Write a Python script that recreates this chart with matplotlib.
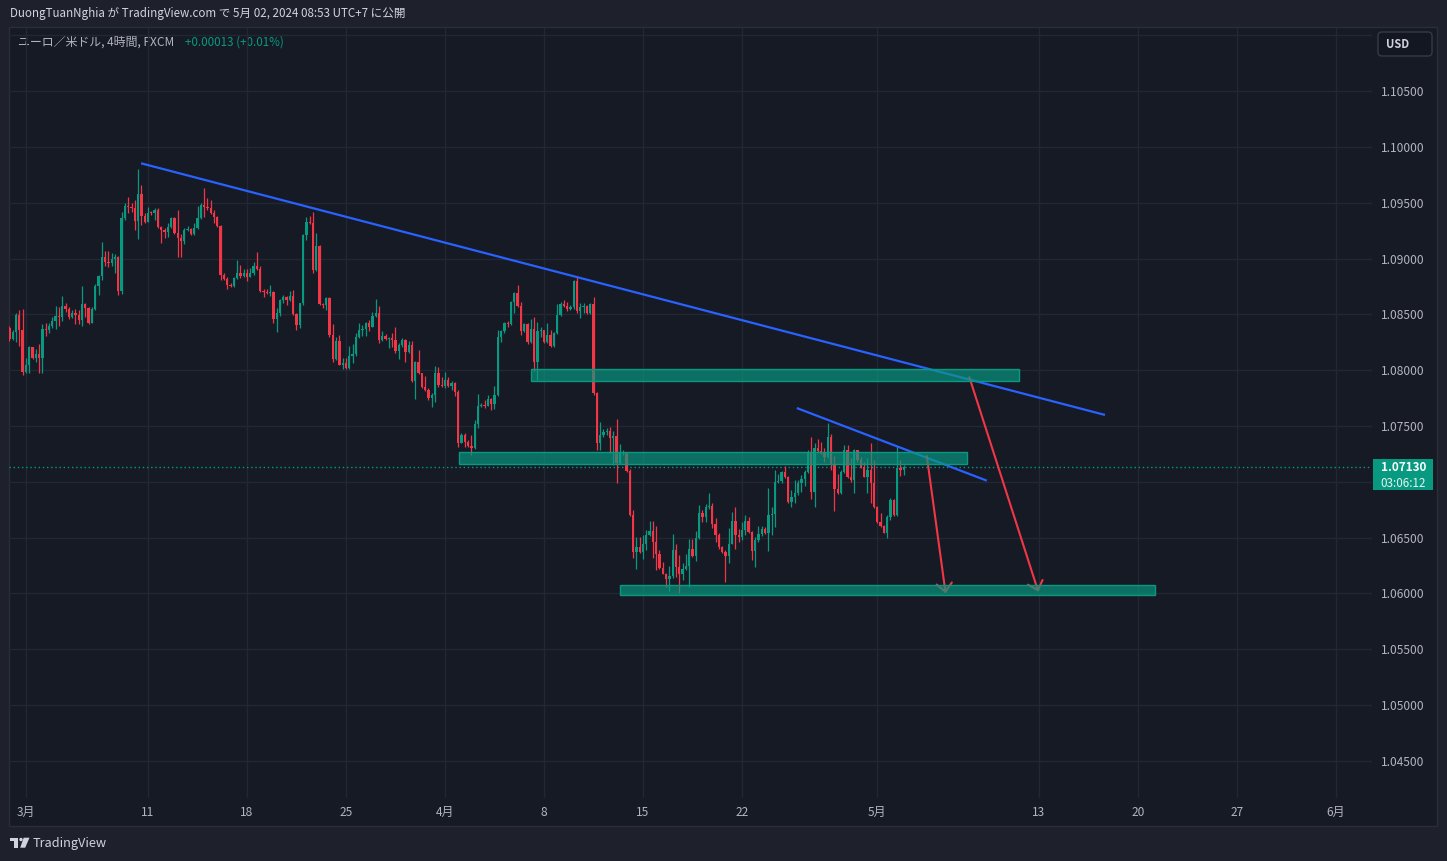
import numpy as np
import matplotlib
matplotlib.use("Agg")
import matplotlib.pyplot as plt
from matplotlib.patches import Rectangle, FancyBboxPatch, Polygon, Circle

plt.rcParams["font.family"] = ["Noto Sans CJK JP", "DejaVu Sans"]

# EUR/USD 4H bars, index 0 = first bar of Feb 29 (open of each bar = previous close)
first_open = 1.08374
closes = [
    1.08284, 1.08344, 1.08493, 1.08359, 1.07985, 1.08045, 1.08206, 1.08111, 1.08144, 1.08111,
    1.08368, 1.08359, 1.08398, 1.08440, 1.08488, 1.08478, 1.08574, 1.08544, 1.08478, 1.08517,
    1.08499, 1.08448, 1.08589, 1.08553, 1.08425, 1.08547, 1.08753, 1.08843, 1.09011, 1.08972,
    1.08963, 1.08999, 1.09017, 1.08712, 1.09360, 1.09471, 1.09462, 1.09456, 1.09337, 1.09579,
    1.09382, 1.09331, 1.09412, 1.09406, 1.09436, 1.09286, 1.09256, 1.09241, 1.09286, 1.09367,
    1.09232, 1.09187, 1.09157, 1.09256, 1.09265, 1.09220, 1.09271, 1.09367, 1.09480, 1.09462,
    1.09456, 1.09412, 1.09370, 1.09292, 1.08852, 1.08820, 1.08763, 1.08757, 1.08823, 1.08867,
    1.08847, 1.08874, 1.08838, 1.08868, 1.08933, 1.08906, 1.08712, 1.08703, 1.08688, 1.08703,
    1.08458, 1.08509, 1.08628, 1.08652, 1.08628, 1.08664, 1.08503, 1.08404, 1.08598, 1.09211,
    1.09331, 1.09322, 1.08897, 1.09113, 1.08592, 1.08583, 1.08643, 1.08314, 1.08099, 1.08261,
    1.08051, 1.08066, 1.08021, 1.08129, 1.08141, 1.08299, 1.08360, 1.08369, 1.08426, 1.08390,
    1.08486, 1.08516, 1.08271, 1.08306, 1.08280, 1.08291, 1.08271, 1.08172, 1.08226, 1.08271,
    1.08166, 1.08226, 1.07903, 1.08076, 1.07977, 1.07852, 1.07822, 1.07747, 1.07777, 1.07971,
    1.07867, 1.07858, 1.07912, 1.07861, 1.07888, 1.07807, 1.07350, 1.07418, 1.07359, 1.07323,
    1.07299, 1.07520, 1.07678, 1.07687, 1.07675, 1.07738, 1.07696, 1.07777, 1.08294, 1.08351,
    1.08426, 1.08414, 1.08614, 1.08695, 1.08575, 1.08351, 1.08414, 1.08255, 1.08366, 1.08076,
    1.08351, 1.08360, 1.08255, 1.08315, 1.08219, 1.08336, 1.08494, 1.08590, 1.08575, 1.08545,
    1.08563, 1.08799, 1.08533, 1.08569, 1.08575, 1.08509, 1.08593, 1.07792, 1.07349, 1.07419,
    1.07443, 1.07455, 1.07395, 1.07410, 1.07165, 1.07255, 1.07264, 1.07099, 1.06701, 1.06373,
    1.06417, 1.06373, 1.06447, 1.06522, 1.06558, 1.06462, 1.06349, 1.06229, 1.06178, 1.06133,
    1.06154, 1.06388, 1.06238, 1.06178, 1.06223, 1.06247, 1.06397, 1.06334, 1.06498, 1.06722,
    1.06686, 1.06770, 1.06782, 1.06621, 1.06522, 1.06417, 1.06373, 1.06337, 1.06447, 1.06651,
    1.06522, 1.06501, 1.06567, 1.06651, 1.06552, 1.06382, 1.06477, 1.06531, 1.06576, 1.06537,
    1.06701, 1.06710, 1.07000, 1.07006, 1.07090, 1.07039, 1.06821, 1.06866, 1.06902, 1.06985,
    1.07024, 1.07090, 1.07255, 1.06911, 1.07305, 1.07278, 1.07260, 1.07219, 1.07404, 1.07150,
    1.06932, 1.06902, 1.07090, 1.07285, 1.07039, 1.07015, 1.07285, 1.07195, 1.07135, 1.07045,
    1.07105, 1.06991, 1.06776, 1.06642, 1.06603, 1.06543, 1.06686, 1.06836, 1.06701, 1.07120,
    1.07105, 1.07130,
]
highs = [
    1.08395, 1.08359, 1.08514, 1.08538, 1.08547, 1.08105, 1.08215, 1.08212, 1.08188, 1.08239,
    1.08413, 1.08419, 1.08419, 1.08478, 1.08574, 1.08562, 1.08664, 1.08598, 1.08562, 1.08538,
    1.08544, 1.08538, 1.08753, 1.08598, 1.08568, 1.08568, 1.08771, 1.08852, 1.09148, 1.09067,
    1.09067, 1.09047, 1.09038, 1.09025, 1.09417, 1.09501, 1.09549, 1.09495, 1.09525, 1.09803,
    1.09660, 1.09406, 1.09465, 1.09430, 1.09450, 1.09450, 1.09292, 1.09271, 1.09322, 1.09376,
    1.09370, 1.09436, 1.09220, 1.09271, 1.09292, 1.09271, 1.09322, 1.09471, 1.09495, 1.09630,
    1.09540, 1.09525, 1.09436, 1.09382, 1.09301, 1.08867, 1.08837, 1.08778, 1.08832, 1.08987,
    1.08942, 1.08903, 1.08903, 1.08912, 1.08972, 1.09062, 1.08933, 1.08724, 1.08724, 1.08763,
    1.08709, 1.08554, 1.08634, 1.08673, 1.08664, 1.08712, 1.08718, 1.08515, 1.08604, 1.09220,
    1.09376, 1.09382, 1.09421, 1.09232, 1.09122, 1.08604, 1.08658, 1.08652, 1.08413, 1.08299,
    1.08314, 1.08105, 1.08105, 1.08216, 1.08234, 1.08329, 1.08426, 1.08405, 1.08435, 1.08450,
    1.08525, 1.08638, 1.08575, 1.08351, 1.08324, 1.08300, 1.08336, 1.08390, 1.08241, 1.08291,
    1.08276, 1.08265, 1.08265, 1.08085, 1.08181, 1.07948, 1.07948, 1.07837, 1.07792, 1.08037,
    1.08025, 1.07942, 1.07986, 1.07936, 1.07906, 1.07897, 1.07822, 1.07433, 1.07433, 1.07374,
    1.07418, 1.07553, 1.07786, 1.07708, 1.07732, 1.07777, 1.07747, 1.07857, 1.08360, 1.08360,
    1.08435, 1.08444, 1.08623, 1.08704, 1.08763, 1.08608, 1.08426, 1.08420, 1.08456, 1.08473,
    1.08429, 1.08384, 1.08345, 1.08420, 1.08360, 1.08345, 1.08590, 1.08614, 1.08629, 1.08614,
    1.08584, 1.08808, 1.08844, 1.08599, 1.08599, 1.08584, 1.08605, 1.08659, 1.07807, 1.07539,
    1.07470, 1.07479, 1.07488, 1.07458, 1.07563, 1.07338, 1.07285, 1.07261, 1.07111, 1.06746,
    1.06507, 1.06507, 1.06522, 1.06567, 1.06651, 1.06651, 1.06603, 1.06388, 1.06277, 1.06184,
    1.06244, 1.06531, 1.06441, 1.06343, 1.06268, 1.06352, 1.06483, 1.06483, 1.06558, 1.06791,
    1.06746, 1.06800, 1.06896, 1.06806, 1.06672, 1.06537, 1.06423, 1.06388, 1.06582, 1.06725,
    1.06770, 1.06573, 1.06642, 1.06701, 1.06686, 1.06561, 1.06507, 1.06603, 1.06603, 1.06597,
    1.06941, 1.06770, 1.07105, 1.07069, 1.07099, 1.07141, 1.07051, 1.06926, 1.07015, 1.07015,
    1.07060, 1.07105, 1.07285, 1.07404, 1.07350, 1.07380, 1.07359, 1.07299, 1.07530, 1.07428,
    1.07231, 1.07069, 1.07105, 1.07329, 1.07329, 1.07210, 1.07291, 1.07285, 1.07219, 1.07180,
    1.07210, 1.07344, 1.07195, 1.06782, 1.06716, 1.06612, 1.06701, 1.06851, 1.06842, 1.07320,
    1.07195, 1.07150,
]
lows = [
    1.08263, 1.08275, 1.08254, 1.08218, 1.07955, 1.07976, 1.07976, 1.08100, 1.08075, 1.07976,
    1.07976, 1.08308, 1.08329, 1.08374, 1.08368, 1.08398, 1.08443, 1.08523, 1.08463, 1.08472,
    1.08410, 1.08413, 1.08398, 1.08478, 1.08413, 1.08425, 1.08538, 1.08673, 1.08807, 1.08933,
    1.08927, 1.08936, 1.08873, 1.08673, 1.08682, 1.09346, 1.09406, 1.09421, 1.09256, 1.09175,
    1.09301, 1.09322, 1.09325, 1.09395, 1.09346, 1.09271, 1.09142, 1.09181, 1.09190, 1.09271,
    1.09217, 1.09017, 1.09017, 1.09128, 1.09250, 1.09211, 1.09211, 1.09265, 1.09352, 1.09376,
    1.09436, 1.09400, 1.09316, 1.09280, 1.08808, 1.08808, 1.08724, 1.08742, 1.08748, 1.08820,
    1.08830, 1.08832, 1.08802, 1.08832, 1.08853, 1.08897, 1.08703, 1.08658, 1.08682, 1.08664,
    1.08419, 1.08344, 1.08485, 1.08598, 1.08583, 1.08622, 1.08494, 1.08359, 1.08374, 1.08583,
    1.09167, 1.09310, 1.08867, 1.08891, 1.08583, 1.08554, 1.08539, 1.08299, 1.08075, 1.08090,
    1.08045, 1.08015, 1.08015, 1.08015, 1.08066, 1.08129, 1.08285, 1.08309, 1.08309, 1.08354,
    1.08384, 1.08474, 1.08241, 1.08265, 1.08271, 1.08202, 1.08211, 1.08151, 1.08100, 1.08211,
    1.08076, 1.08151, 1.07891, 1.07741, 1.07965, 1.07843, 1.07816, 1.07732, 1.07672, 1.07717,
    1.07852, 1.07846, 1.07837, 1.07852, 1.07822, 1.07768, 1.07308, 1.07344, 1.07308, 1.07314,
    1.07239, 1.07290, 1.07480, 1.07666, 1.07657, 1.07678, 1.07642, 1.07648, 1.07768, 1.08255,
    1.08336, 1.08384, 1.08405, 1.08509, 1.08569, 1.08315, 1.08345, 1.08234, 1.08246, 1.07995,
    1.07911, 1.08300, 1.08246, 1.08246, 1.08210, 1.08210, 1.08324, 1.08485, 1.08563, 1.08533,
    1.08539, 1.08545, 1.08515, 1.08470, 1.08509, 1.08503, 1.08503, 1.07777, 1.07283, 1.07284,
    1.07404, 1.07419, 1.07261, 1.07150, 1.06991, 1.07159, 1.07240, 1.07090, 1.06692, 1.06313,
    1.06223, 1.06364, 1.06304, 1.06388, 1.06513, 1.06313, 1.06208, 1.06223, 1.06172, 1.06059,
    1.06023, 1.06142, 1.06148, 1.06005, 1.06118, 1.06208, 1.06059, 1.06322, 1.06292, 1.06483,
    1.06642, 1.06642, 1.06752, 1.06582, 1.06462, 1.06402, 1.06364, 1.06103, 1.06268, 1.06441,
    1.06402, 1.06462, 1.06477, 1.06522, 1.06543, 1.06298, 1.06238, 1.06462, 1.06513, 1.06531,
    1.06382, 1.06522, 1.06597, 1.06985, 1.06991, 1.07030, 1.06806, 1.06776, 1.06806, 1.06881,
    1.06911, 1.06962, 1.07081, 1.06845, 1.06776, 1.07269, 1.07249, 1.07180, 1.07210, 1.07105,
    1.06740, 1.06890, 1.06890, 1.07075, 1.07030, 1.07000, 1.06902, 1.07180, 1.07120, 1.07039,
    1.06896, 1.06806, 1.06761, 1.06633, 1.06597, 1.06537, 1.06492, 1.06657, 1.06692, 1.06692,
    1.07051, 1.07060,
]

# time axis: bar index of each label
tick_pos = [5, 42, 72, 102, 132, 162, 192, 222, 263, 312, 342, 372, 402]
tick_labels = ["3月", "11", "18", "25", "4月", "8", "15", "22", "5月", "13", "20", "27", "6月"]
price_ticks = [1.045, 1.050, 1.055, 1.060, 1.065, 1.070, 1.075,
               1.080, 1.085, 1.090, 1.095, 1.100, 1.105]

# drawings (bar index, price)
trend_long_x, trend_long_y = [39.9, 332.0], [1.09854, 1.07599]
trend_short_x, trend_short_y = [238.6, 296.2], [1.07661, 1.07010]
zone_x0 = [158.1, 136.2, 185.0]
zone_x1 = [306.0, 290.1, 347.2]
zone_lo = [1.07901, 1.07162, 1.05986]
zone_hi = [1.08008, 1.07265, 1.06076]
arrow_start = [(278.0, 1.07231), (290.9, 1.07937)]
arrow_end = [(283.7, 1.06001), (311.8, 1.06015)]

countdown = "03:06:12"

UP = "#089981"
DOWN = "#f23645"
BLUE = "#2962ff"
OUTER = "#1e212c"
PANEL = "#161a25"
GRID = "#232733"
TXT = "#b2b5be"

W, H = 1447, 861
fig = plt.figure(figsize=(W / 100, H / 100), dpi=100, facecolor=OUTER)

# background layer in pixel coordinates
bg = fig.add_axes([0, 0, 1, 1], zorder=0)
bg.set_xlim(0, W)
bg.set_ylim(H, 0)
bg.axis("off")
bg.add_patch(Rectangle((9, 27), 1428, 799, facecolor=PANEL, edgecolor="#2a2e39", lw=1))

bg.text(10, 14, "DuongTuanNghia が TradingView.com で 5月 02, 2024 08:53 UTC+7 に公開",
        color="#d1d4dc", fontsize=8.35, va="center", ha="left")
bg.text(18, 42, "ユーロ／米ドル, 4時間, FXCM", color=TXT, fontsize=8.6, va="center")
bg.text(185, 42, "+0.00013 (+0.01%)", color=UP, fontsize=8.4, va="center")

# USD button
bg.add_patch(FancyBboxPatch((1378, 32), 54, 24, boxstyle="round,pad=0,rounding_size=4",
                            facecolor="#131722", edgecolor="#363a45", lw=1))
bg.text(1386, 44.5, "USD", color="#d1d4dc", fontsize=8, fontweight="bold", va="center")

# TradingView logo
bg.add_patch(Polygon([(10, 837.7), (18.3, 837.7), (18.3, 847.7), (14, 847.7),
                      (14, 841.3), (10, 841.3)], closed=True, color="#d1d4dc", lw=0))
bg.add_patch(Circle((21.0, 839.5), 1.7, color="#d1d4dc", lw=0))
bg.add_patch(Polygon([(23.7, 837.7), (29.5, 837.7), (25.2, 847.7), (20.2, 847.7)],
                     closed=True, color="#d1d4dc", lw=0))
bg.text(33, 843.5, "TradingView", color="#d1d4dc", fontsize=9.2, va="center")

# main price chart
L, R, T, B = 9, 1372, 28, 798
ax = fig.add_axes([L / W, 1 - B / H, (R - L) / W, (B - T) / H], zorder=1)
ax.set_facecolor("none")
px_per_bar = 3.3
x_left = (L - 9.4) / px_per_bar
ax.set_xlim(x_left, x_left + (R - L) / px_per_bar)
price_per_px = 0.05 / 558
ax.set_ylim(1.10 - (B - 147) * price_per_px, 1.10 + (147 - T) * price_per_px)

for s in ax.spines.values():
    s.set_visible(False)
ax.set_yticks(price_ticks)
ax.set_yticklabels([f"{p:.5f}" for p in price_ticks])
ax.yaxis.tick_right()
ax.set_xticks(tick_pos)
ax.set_xticklabels(tick_labels)
ax.tick_params(axis="y", length=0, pad=6.5, labelsize=8.6, labelcolor=TXT)
ax.tick_params(axis="x", length=0, pad=5.5, labelsize=8.6, labelcolor=TXT)
ax.grid(True, color=GRID, lw=1)
ax.axhline(1.110, color=GRID, lw=1, zorder=0.5)
ax.set_axisbelow(True)

opens = [first_open] + closes[:-1]
x = np.arange(len(closes))
colors = [UP if c >= o else DOWN for o, c in zip(opens, closes)]
bottoms = [min(o, c) for o, c in zip(opens, closes)]
heights = [max(abs(c - o), 0.00008) for o, c in zip(opens, closes)]
ax.vlines(x, lows, highs, colors=colors, lw=0.9, zorder=2)
ax.bar(x, heights, bottom=bottoms, width=0.7, color=colors, lw=0, zorder=2.1)

# last price line and label
last = closes[-1]
ax.axhline(last, color=UP, lw=1, ls=(0, (1, 2)), zorder=1.5)
ytr = ax.get_yaxis_transform()
ax.add_patch(Rectangle((1.0005, last - 0.00203), 0.044, 0.00278, transform=ytr,
                       facecolor=UP, edgecolor="none", clip_on=False, zorder=5))
ax.text(1.0065, last, f"{last:.5f}", transform=ytr, color="white", fontsize=8.4,
        fontweight="bold", va="center", ha="left", clip_on=False, zorder=6)
ax.text(1.0065, last - 0.00141, countdown, transform=ytr, color="#e6f4f1", fontsize=8.4,
        va="center", ha="left", clip_on=False, zorder=6)

# trend lines
ax.plot(trend_long_x, trend_long_y, color=BLUE, lw=1.6, solid_capstyle="butt", zorder=3)
ax.plot(trend_short_x, trend_short_y, color=BLUE, lw=1.6, solid_capstyle="butt", zorder=3)

# arrows
for s, e in zip(arrow_start, arrow_end):
    ax.annotate("", xy=e, xytext=s, zorder=3,
                arrowprops=dict(arrowstyle="->,head_length=0.6,head_width=0.55",
                                color=DOWN, lw=1.5, shrinkA=0, shrinkB=0))

# zones (drawn over the other marks)
for x0, x1, lo, hi in zip(zone_x0, zone_x1, zone_lo, zone_hi):
    ax.add_patch(Rectangle((x0, lo), x1 - x0, hi - lo, facecolor=(8 / 255, 153 / 255, 129 / 255, 0.68),
                           edgecolor=UP, lw=1, zorder=4))

fig.savefig("out.png", dpi=100, facecolor=OUTER)
